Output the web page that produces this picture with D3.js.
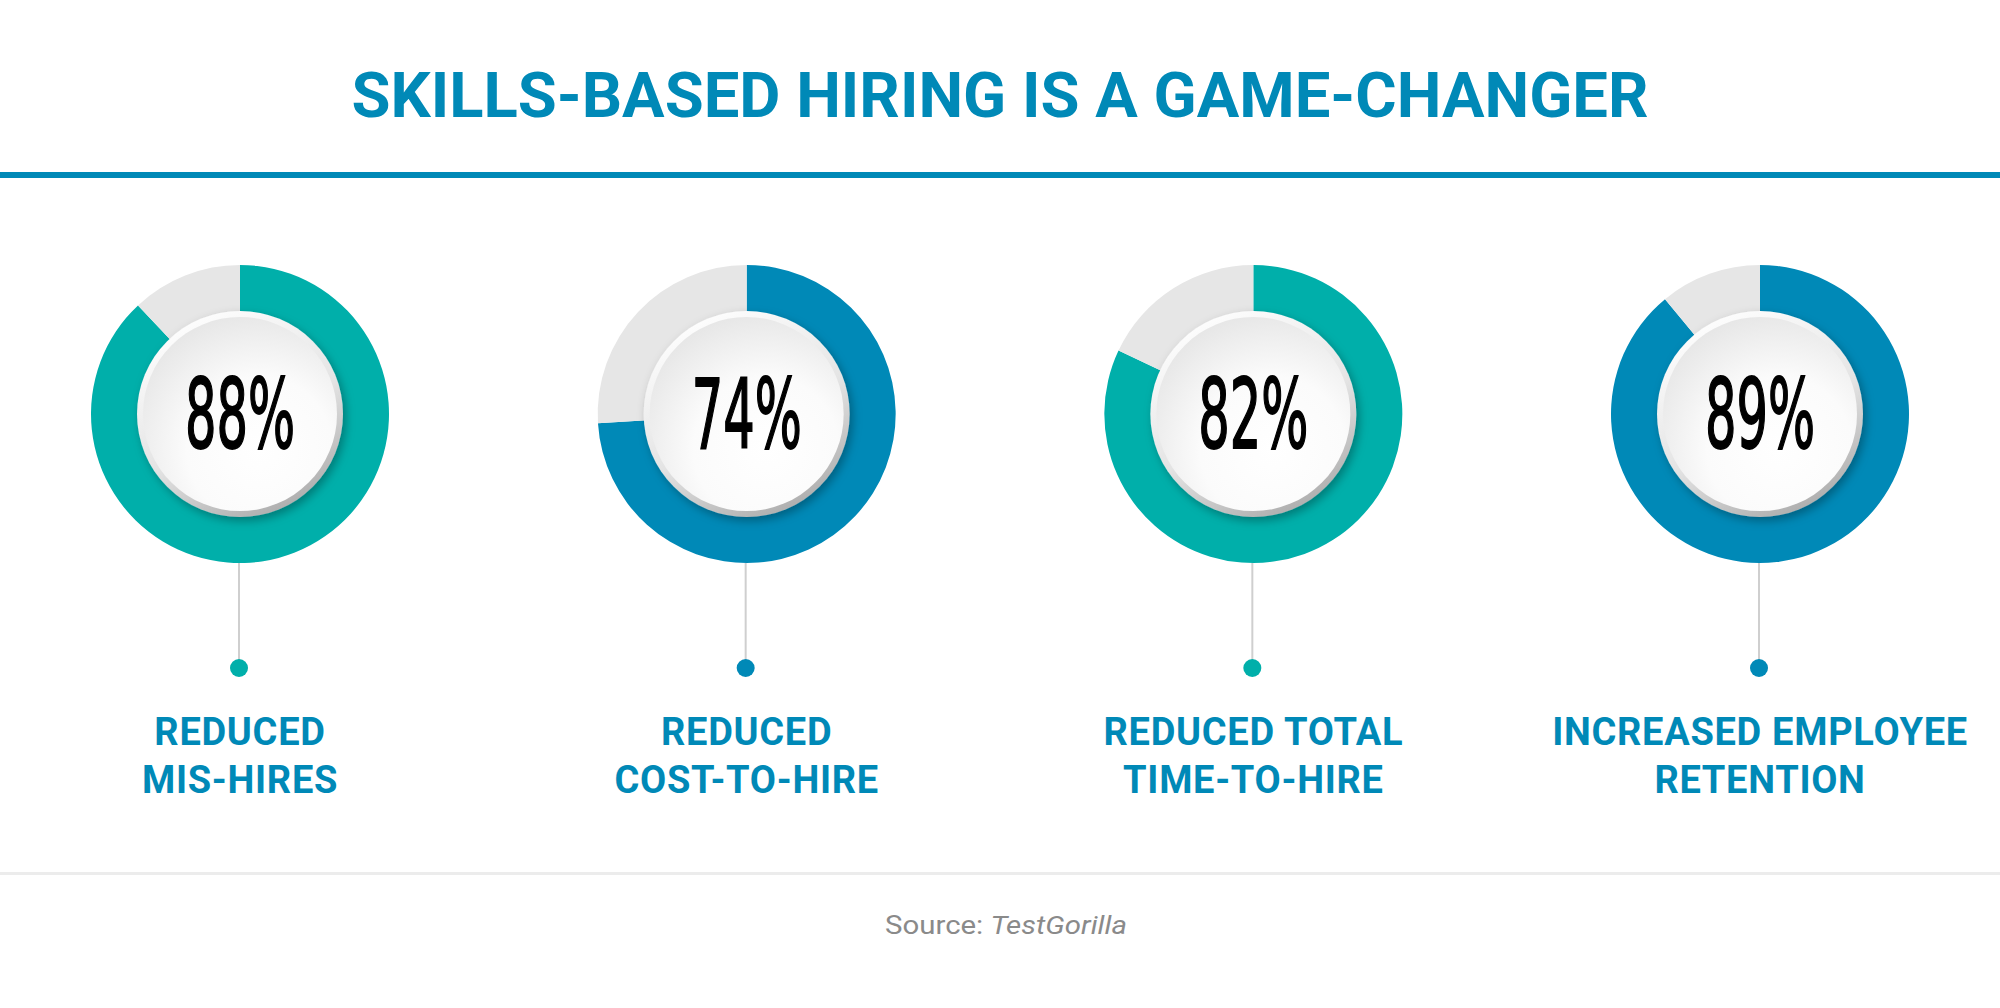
<!DOCTYPE html>
<html>
  <head>
    <meta charset="utf-8">
    <title>Skills-based hiring</title>
    <script src="https://d3js.org/d3.v7.min.js"></script>
    <style>
      body { margin: 0; background: #fff; }
      svg { display: block; }
    </style>
  </head>
  <body>

  <script type="text/javascript">
    // chart data
    var percents = [88, 74, 82, 89];
    var labels = [
      ['REDUCED', 'MIS-HIRES'],
      ['REDUCED', 'COST-TO-HIRE'],
      ['REDUCED TOTAL', 'TIME-TO-HIRE'],
      ['INCREASED EMPLOYEE', 'RETENTION']
    ];
    var title = 'SKILLS-BASED HIRING IS A GAME-CHANGER';
    var sourceLabel = 'Source: ';
    var sourceName = 'TestGorilla';

    var palette = ['#00afaa', '#0089b7', '#00afaa', '#0089b7'];
    var blue = '#0089b7';
    var restColor = '#e6e6e6';

    var W = 2000, H = 1008;
    var svg = d3.select('body')
               .append('svg')
               .attr('width', W)
               .attr('height', H);

    var defs = svg.append('defs');

    /* bevel + disc gradients for the centre button */
    var bevel = defs.append('linearGradient')
        .attr('id', 'bevel')
        .attr('x1', '0.25').attr('y1', '0')
        .attr('x2', '0.75').attr('y2', '1');
    bevel.append('stop').attr('offset', '0').attr('stop-color', '#ffffff');
    bevel.append('stop').attr('offset', '0.55').attr('stop-color', '#e4e4e4');
    bevel.append('stop').attr('offset', '1').attr('stop-color', '#a9a9a9');

    var disc = defs.append('radialGradient')
        .attr('id', 'disc')
        .attr('cx', '0.6').attr('cy', '0.68').attr('r', '0.75');
    disc.append('stop').attr('offset', '0').attr('stop-color', '#ffffff');
    disc.append('stop').attr('offset', '0.5').attr('stop-color', '#fbfbfb');
    disc.append('stop').attr('offset', '1').attr('stop-color', '#e4e4e4');

    var shadow = defs.append('filter')
        .attr('id', 'shadow')
        .attr('x', '-30%').attr('y', '-30%')
        .attr('width', '160%').attr('height', '160%');
    shadow.append('feDropShadow')
        .attr('dx', 3).attr('dy', 4)
        .attr('stdDeviation', 5)
        .attr('flood-color', '#000')
        .attr('flood-opacity', 0.3);

    /* header */
    svg.append('text')
       .attr('x', 1000)
       .attr('y', 117)
       .attr('text-anchor', 'middle')
       .attr('font-family', 'Roboto, sans-serif')
       .attr('font-weight', 700)
       .attr('font-size', 63)
       .attr('textLength', 1297)
       .attr('lengthAdjust', 'spacingAndGlyphs')
       .attr('fill', blue)
       .text(title);

    svg.append('rect')
       .attr('x', 0).attr('y', 172)
       .attr('width', W).attr('height', 6)
       .attr('fill', blue);

    /* donuts */
    var x = d3.scalePoint()
              .domain(d3.range(percents.length))
              .range([240, 1760]);
    var cy = 414;
    var rOuter = 149, rInner = 100;

    var pie = d3.pie().sort(null).value(function(d){ return d; });
    var arc = d3.arc().innerRadius(rInner).outerRadius(rOuter);

    var groups = svg.selectAll('g.item')
        .data(percents)
        .enter()
        .append('g')
        .attr('class', 'item')
        .attr('transform', function(d, i){ return 'translate(' + x(i) + ',0)'; });

    // stem + dot
    groups.append('line')
          .attr('x1', -1).attr('x2', -1)
          .attr('y1', cy + rOuter).attr('y2', 662)
          .attr('stroke', '#cfcfcf')
          .attr('stroke-width', 2);
    groups.append('circle')
          .attr('cx', -1).attr('cy', 668)
          .attr('r', 9)
          .attr('fill', function(d, i){ return palette[i]; });

    var ring = groups.append('g').attr('transform', 'translate(0,' + cy + ')');
    ring.selectAll('path')
        .data(function(d, i){
          return pie([d, 100 - d]).map(function(s){ s.idx = i; return s; });
        })
        .enter()
        .append('path')
        .attr('d', arc)
        .attr('fill', function(s){ return s.index === 0 ? palette[s.idx] : restColor; });

    ring.append('circle')
        .attr('r', 103)
        .attr('fill', 'url(#bevel)')
        .attr('filter', 'url(#shadow)');
    ring.append('circle')
        .attr('r', 97)
        .attr('fill', 'url(#disc)');

    ring.append('text')
        .attr('x', 0)
        .attr('y', 34)
        .attr('text-anchor', 'middle')
        .attr('font-family', '"Liberation Sans Narrow", "DejaVu Sans Condensed", sans-serif')
        .attr('font-size', 97)
        .attr('textLength', 110)
        .attr('lengthAdjust', 'spacingAndGlyphs')
        .attr('fill', '#000')
        .attr('stroke', '#000')
        .attr('stroke-width', 1.8)
        .text(function(d){ return d + '%'; });

    // labels under the dots
    var lab = groups.append('text')
        .attr('text-anchor', 'middle')
        .attr('font-family', 'Roboto, sans-serif')
        .attr('font-weight', 700)
        .attr('font-size', 38)
        .attr('letter-spacing', 0.7)
        .attr('fill', blue);
    lab.selectAll('tspan')
       .data(function(d, i){ return labels[i]; })
       .enter()
       .append('tspan')
       .attr('x', 0)
       .attr('y', function(t, j){ return 745 + j * 48; })
       .text(function(t){ return t; });

    /* footer */
    svg.append('rect')
       .attr('x', 0).attr('y', 872)
       .attr('width', W).attr('height', 3)
       .attr('fill', '#ececec');

    var src = svg.append('text')
       .attr('x', 1006)
       .attr('y', 934)
       .attr('text-anchor', 'middle')
       .attr('font-family', 'Roboto, sans-serif')
       .attr('font-size', 25)
       .attr('textLength', 242)
       .attr('lengthAdjust', 'spacingAndGlyphs')
       .attr('fill', '#8a8a8a');
    src.append('tspan').text(sourceLabel);
    src.append('tspan').attr('font-style', 'italic').text(sourceName);
  </script>
  </body>
</html>
